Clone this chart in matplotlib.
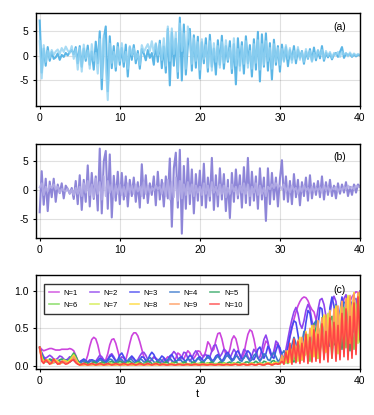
import numpy as np
import matplotlib
matplotlib.use("Agg")
import matplotlib.pyplot as plt

plt.rcParams['font.family'] = ['Liberation Sans', 'DejaVu Sans']

# time grid shared by all panels (step 0.25)
t = np.linspace(0, 40, 161)

# panel (a): two signals
a_dark = [
    7.2, -3.4, 1.5, -2.0, 1.8, -1.0, 0.8, -0.6, -0.3, 0.5, -0.8, 0.2, -0.2, 0.6, 0.1, 0.8, 1.2, 0.3, 1.8, -1.5,
    2.0, -2.2, 1.5, -1.0, 2.1, -1.8, 0.9, -2.8, 2.9, -1.5, 5.0, -6.8, 3.5, 6.0, -7.2, 4.0, -2.5, 2.0, -3.0, 2.6,
    -1.8, 1.6, -2.2, 2.3, -4.2, 1.8, -0.8, 2.2, -1.5, 1.0, -2.6, 1.4, 0.5, -0.9, 1.2, -0.4, 0.6, -1.8, 2.4, -1.2,
    3.1, -2.5, 1.9, -3.4, 5.5, -6.0, 4.8, -2.0, 3.5, -4.5, 7.8, -5.0, 6.4, -3.8, 2.2, 5.5, -3.0, 4.2, -2.4, 3.9,
    -4.6, 2.8, -1.5, 3.6, -3.2, 4.3, -2.2, 1.5, -3.8, 3.2, -1.8, 4.1, -2.6, 2.0, -1.2, 3.0, -3.5, 2.4, -5.8, 3.6,
    -2.0, 2.8, -3.6, 4.0, -1.5, 2.2, -4.2, 3.4, -2.8, 4.9, -5.2, 4.4, -2.2, 4.6, -3.0, 2.6, -4.8, 3.3, -1.8, 2.0,
    -3.2, 2.3, -1.0, 1.8, -2.1, 1.2, -0.8, 2.0, -1.5, 1.3, -0.4, 1.0, -1.6, 0.9, -0.6, 1.4, -1.0, 1.7, -0.9, 1.1,
    -0.5, 2.0, -1.0, 0.6, -0.3, 0.5, -0.7, 0.3, 0.6, -0.2, 0.8, 1.8, -0.4, 0.5, 0.1, 0.4, -0.2, 0.3, -0.1, 0.2,
    0.1,
]
a_light = [
    3.0, -4.6, 2.2, -1.2, 1.0, -0.4, 1.2, 0.2, 0.9, 1.3, 0.4, 1.6, 0.8, 1.9, 1.1, 0.6, 2.0, -0.6, 1.4, -2.8,
    1.6, -3.2, 2.3, -0.5, 1.1, -2.6, 2.4, -1.0, 0.6, -3.6, 3.4, -4.5, 4.2, -2.0, -9.0, 2.5, -1.4, 0.8, -2.2, 1.8,
    -1.0, 2.6, -1.2, 0.8, -2.6, 2.0, 0.2, 1.5, -0.6, 0.4, -1.8, 2.2, 0.8, 1.6, 2.4, 1.0, 3.0, 0.6, 2.6, 0.2,
    2.4, -0.8, 3.6, -2.0, 6.0, -1.0, 5.6, 0.4, 4.8, -3.2, 6.6, 1.0, 4.6, -2.6, 6.0, 3.0, -1.6, 3.6, -1.0, 2.8,
    -2.8, 3.4, -0.6, 2.2, -2.4, 3.0, -3.0, 2.6, -1.2, 2.0, -2.4, 2.8, -1.4, 3.2, -0.8, 1.6, -2.6, 3.6, -2.0, 1.4,
    -3.0, 2.0, -1.6, 3.0, -2.4, 1.0, -2.6, 2.4, -1.4, 3.2, -2.8, 2.4, -1.8, 3.0, -1.0, 1.6, -2.6, 2.4, -1.2, 1.6,
    -1.8, 1.4, -1.2, 2.2, -0.6, 1.6, -1.4, 1.0, -0.6, 1.8, -0.8, 0.8, -1.2, 1.4, -0.4, 1.0, -1.2, 0.6, -0.4, 1.2,
    0.2, 1.2, -0.6, 1.0, 0.0, 0.8, -0.4, 0.6, 0.2, 0.8, -0.2, 0.9, 0.3, 0.6, -0.1, 0.7, 0.0, 0.5, 0.1, 0.4,
    0.2,
]

# panel (b): two signals
b_main = [
    -3.8, 3.3, -2.5, 2.0, -3.6, 1.5, -1.2, 2.0, -2.0, 1.0, -0.5, 1.2, -1.4, 0.8, 0.2, -0.6, 0.4, -1.5, 1.6, -2.4,
    2.6, -3.4, 1.8, -2.0, 4.3, -2.8, 3.0, -1.5, 2.4, -3.5, 7.2, -4.0, 5.0, 6.8, -3.2, 6.2, -4.7, 2.5, -1.8, 3.2,
    -2.4, 3.0, -1.6, 2.4, -2.8, 1.8, -1.0, 2.2, -2.0, 1.4, -3.0, 4.5, -1.4, 2.6, -2.2, 1.2, -0.8, 2.4, -2.6, 3.2,
    -1.6, 1.8, -2.8, 2.4, -1.4, 5.5, -6.3, 3.8, 6.5, -3.0, 7.0, -7.5, 4.2, -3.2, 5.5, -2.4, 3.6, -4.0, 2.8, -1.8,
    3.4, -2.6, 4.6, -3.0, 2.2, -1.8, 5.6, -3.4, 2.6, -2.8, 3.8, -1.6, 2.8, -3.6, 1.8, -4.8, 3.0, -2.0, 3.6, -1.4,
    2.6, -3.0, 4.0, -2.2, 5.6, -2.6, 3.2, -1.8, 2.4, -3.2, 3.8, -1.6, 2.2, -5.3, 3.8, -2.4, 3.0, -1.6, 2.2, -2.8,
    2.0, 5.2, -1.6, 2.4, -2.0, 1.6, -2.4, 2.8, -1.2, 1.8, -2.6, 1.4, -1.0, 2.2, -1.8, 2.6, -1.4, 1.2, -0.8, 1.6,
    -1.2, 2.4, -1.6, 1.4, -0.8, 1.8, -1.0, 0.8, -1.4, 1.2, -0.6, 1.0, -0.4, 1.4, -1.0, 0.6, -0.8, 1.0, -0.4, 1.0,
    0.6,
]
b_light = [
    0.5, 1.2, -0.8, 0.6, -0.2, 0.8, 0.4, 1.0, 0.2, 0.6, -0.4, 0.2, 0.0, -0.2, 0.3, -0.5, 0.1, -0.8, 0.4, -0.6,
    0.6, -1.0, 1.2, -0.4, 1.6, -0.8, 1.0, -1.2, 2.0, -0.6, 1.4, -1.6, 2.4, -1.0, 1.6, -0.4, 1.0, -1.2, 0.8, -0.6,
    1.0, -0.8, 0.6, -1.0, 1.2, -0.4, 0.8, -0.6, 1.0, -0.2, 0.6, -1.0, 1.4, -0.6, 0.8, -0.4, 0.4, 0.0, 0.8, 0.2,
    0.6, -0.6, 1.2, -1.0, 1.8, -1.6, 1.4, -1.2, 2.2, -1.8, 1.6, -1.4, 1.0, -0.8, 1.4, -0.6, 1.0, -1.0, 0.8, -0.4,
    0.6, -0.8, 1.2, -0.6, 0.8, -1.0, 1.4, -0.4, 0.6, -0.8, 1.0, -0.6, 0.8, -1.2, 0.4, -0.6, 1.0, -0.2, 0.6, -0.8,
    0.8, -0.4, 1.2, -0.6, 1.0, -1.0, 0.6, -0.4, 1.2, -0.8, 0.8, -0.6, 0.4, -1.0, 0.6, 0.2, 1.0, 0.4, 1.2, 0.6,
    0.8, 0.2, 1.0, -0.2, 0.6, -0.4, 0.8, 0.0, 0.4, -0.6, 0.6, -0.2, 0.8, 0.0, 0.4, -0.4, 0.6, -0.2, 0.4, 0.0,
    0.5, -0.4, 0.8, 0.0, 0.6, -0.2, 0.4, 0.2, 0.6, -0.2, 0.4, 0.0, 0.6, 0.2, 0.8, 0.4, 0.6, 0.2, 0.8, 0.6,
    0.7,
]

# panel (c): N = 1..10
c_n1 = [
    0.25, 0.22, 0.20, 0.21, 0.22, 0.23, 0.23, 0.22, 0.21, 0.21, 0.21, 0.22, 0.22, 0.22, 0.22, 0.23, 0.22, 0.20, 0.14, 0.07,
    0.04, 0.03, 0.03, 0.06, 0.14, 0.26, 0.35, 0.38, 0.36, 0.28, 0.16, 0.07, 0.05, 0.08, 0.16, 0.28, 0.35, 0.36, 0.30, 0.20,
    0.10, 0.05, 0.04, 0.08, 0.18, 0.30, 0.40, 0.44, 0.44, 0.40, 0.32, 0.22, 0.12, 0.06, 0.05, 0.06, 0.09, 0.11, 0.10, 0.08,
    0.06, 0.05, 0.06, 0.09, 0.12, 0.10, 0.06, 0.05, 0.10, 0.17, 0.15, 0.10, 0.09, 0.15, 0.20, 0.17, 0.11, 0.10, 0.14, 0.20,
    0.19, 0.14, 0.12, 0.20, 0.32, 0.28, 0.19, 0.22, 0.34, 0.43, 0.44, 0.36, 0.24, 0.15, 0.14, 0.22, 0.35, 0.40, 0.36, 0.25,
    0.13, 0.09, 0.16, 0.30, 0.42, 0.48, 0.46, 0.36, 0.22, 0.11, 0.07, 0.12, 0.24, 0.33, 0.30, 0.18, 0.12, 0.18, 0.28, 0.30,
    0.22, 0.12, 0.10, 0.15, 0.25, 0.38, 0.50, 0.62, 0.72, 0.80, 0.86, 0.90, 0.92, 0.91, 0.87, 0.80, 0.75, 0.72, 0.62, 0.52,
    0.42, 0.35, 0.30, 0.28, 0.30, 0.36, 0.44, 0.52, 0.60, 0.64, 0.62, 0.58, 0.60, 0.68, 0.78, 0.86, 0.92, 0.96, 0.99, 0.98,
    0.95,
]
c_n2 = [
    0.24, 0.18, 0.12, 0.10, 0.12, 0.14, 0.12, 0.09, 0.08, 0.10, 0.13, 0.12, 0.09, 0.07, 0.09, 0.12, 0.10, 0.07, 0.05, 0.04,
    0.05, 0.07, 0.06, 0.04, 0.05, 0.08, 0.07, 0.05, 0.06, 0.10, 0.14, 0.12, 0.08, 0.06, 0.09, 0.14, 0.16, 0.12, 0.07, 0.05,
    0.08, 0.12, 0.10, 0.06, 0.05, 0.08, 0.11, 0.09, 0.06, 0.08, 0.13, 0.17, 0.18, 0.14, 0.08, 0.05, 0.08, 0.12, 0.10, 0.06,
    0.04, 0.06, 0.10, 0.08, 0.05, 0.09, 0.15, 0.19, 0.16, 0.10, 0.07, 0.12, 0.18, 0.17, 0.10, 0.06, 0.10, 0.16, 0.20, 0.16,
    0.10, 0.08, 0.14, 0.15, 0.10, 0.12, 0.20, 0.27, 0.28, 0.20, 0.12, 0.16, 0.22, 0.20, 0.13, 0.10, 0.16, 0.22, 0.18, 0.11,
    0.08, 0.14, 0.22, 0.20, 0.12, 0.08, 0.14, 0.22, 0.18, 0.10, 0.12, 0.22, 0.35, 0.41, 0.32, 0.18, 0.12, 0.20, 0.33, 0.30,
    0.18, 0.10, 0.12, 0.22, 0.36, 0.50, 0.62, 0.72, 0.78, 0.70, 0.56, 0.50, 0.60, 0.74, 0.82, 0.76, 0.60, 0.50, 0.58, 0.75,
    0.88, 0.90, 0.82, 0.66, 0.58, 0.70, 0.86, 0.93, 0.86, 0.62, 0.50, 0.72, 0.90, 0.95, 0.78, 0.45, 0.62, 0.88, 0.90, 0.70,
    1.00,
]
c_n3 = [
    0.24, 0.16, 0.10, 0.07, 0.06, 0.08, 0.07, 0.05, 0.05, 0.07, 0.06, 0.05, 0.06, 0.08, 0.07, 0.05, 0.09, 0.12, 0.10, 0.06,
    0.05, 0.07, 0.09, 0.07, 0.05, 0.06, 0.08, 0.07, 0.05, 0.07, 0.10, 0.09, 0.06, 0.05, 0.08, 0.12, 0.14, 0.10, 0.06, 0.08,
    0.14, 0.17, 0.12, 0.07, 0.06, 0.10, 0.13, 0.10, 0.06, 0.05, 0.08, 0.12, 0.11, 0.07, 0.08, 0.14, 0.18, 0.15, 0.09, 0.06,
    0.09, 0.13, 0.11, 0.06, 0.08, 0.13, 0.15, 0.10, 0.06, 0.07, 0.11, 0.12, 0.08, 0.06, 0.10, 0.14, 0.12, 0.07, 0.06, 0.10,
    0.12, 0.09, 0.06, 0.09, 0.14, 0.12, 0.07, 0.08, 0.13, 0.15, 0.10, 0.06, 0.10, 0.16, 0.18, 0.13, 0.08, 0.10, 0.17, 0.20,
    0.15, 0.09, 0.10, 0.16, 0.20, 0.17, 0.10, 0.08, 0.14, 0.22, 0.25, 0.18, 0.10, 0.16, 0.26, 0.22, 0.12, 0.10, 0.20, 0.28,
    0.24, 0.14, 0.08, 0.12, 0.25, 0.40, 0.52, 0.60, 0.58, 0.42, 0.24, 0.20, 0.36, 0.58, 0.74, 0.70, 0.52, 0.30, 0.28, 0.52,
    0.78, 0.76, 0.50, 0.30, 0.46, 0.78, 0.92, 0.80, 0.48, 0.40, 0.72, 0.92, 0.70, 0.38, 0.55, 0.88, 0.82, 0.45, 0.60, 0.90,
    0.80,
]
c_n4 = [
    0.23, 0.15, 0.09, 0.06, 0.05, 0.06, 0.05, 0.04, 0.05, 0.06, 0.05, 0.04, 0.05, 0.07, 0.06, 0.05, 0.07, 0.10, 0.08, 0.05,
    0.04, 0.05, 0.07, 0.06, 0.04, 0.05, 0.07, 0.06, 0.04, 0.05, 0.08, 0.07, 0.05, 0.04, 0.06, 0.09, 0.08, 0.05, 0.04, 0.07,
    0.10, 0.08, 0.05, 0.04, 0.07, 0.10, 0.08, 0.05, 0.04, 0.06, 0.09, 0.08, 0.05, 0.05, 0.08, 0.11, 0.09, 0.05, 0.04, 0.07,
    0.09, 0.07, 0.04, 0.05, 0.08, 0.10, 0.07, 0.04, 0.05, 0.08, 0.09, 0.06, 0.04, 0.06, 0.09, 0.08, 0.05, 0.04, 0.07, 0.10,
    0.08, 0.05, 0.05, 0.09, 0.12, 0.09, 0.05, 0.06, 0.10, 0.13, 0.09, 0.05, 0.07, 0.12, 0.14, 0.10, 0.06, 0.08, 0.13, 0.12,
    0.07, 0.06, 0.11, 0.14, 0.10, 0.06, 0.08, 0.14, 0.16, 0.10, 0.06, 0.10, 0.16, 0.14, 0.08, 0.07, 0.14, 0.18, 0.12, 0.06,
    0.08, 0.16, 0.20, 0.12, 0.06, 0.14, 0.28, 0.38, 0.30, 0.14, 0.12, 0.30, 0.46, 0.40, 0.20, 0.16, 0.38, 0.56, 0.60, 0.42,
    0.22, 0.30, 0.55, 0.66, 0.50, 0.26, 0.40, 0.70, 0.82, 0.60, 0.30, 0.52, 0.84, 0.86, 0.55, 0.36, 0.72, 0.90, 0.72, 0.40,
    0.62,
]
c_n5 = [
    0.24, 0.14, 0.08, 0.06, 0.07, 0.09, 0.08, 0.06, 0.05, 0.06, 0.08, 0.09, 0.07, 0.05, 0.06, 0.09, 0.13, 0.17, 0.13, 0.07,
    0.03, 0.02, 0.03, 0.04, 0.03, 0.02, 0.03, 0.05, 0.04, 0.02, 0.03, 0.05, 0.04, 0.02, 0.03, 0.05, 0.06, 0.04, 0.03, 0.04,
    0.06, 0.05, 0.03, 0.03, 0.05, 0.06, 0.04, 0.02, 0.03, 0.05, 0.05, 0.03, 0.02, 0.04, 0.06, 0.05, 0.03, 0.02, 0.04, 0.05,
    0.04, 0.02, 0.03, 0.05, 0.04, 0.02, 0.02, 0.04, 0.05, 0.03, 0.02, 0.03, 0.05, 0.04, 0.02, 0.02, 0.04, 0.05, 0.03, 0.02,
    0.03, 0.05, 0.04, 0.02, 0.02, 0.04, 0.05, 0.03, 0.02, 0.03, 0.05, 0.04, 0.02, 0.02, 0.04, 0.05, 0.03, 0.02, 0.03, 0.05,
    0.04, 0.02, 0.03, 0.05, 0.05, 0.03, 0.02, 0.04, 0.06, 0.04, 0.02, 0.03, 0.06, 0.05, 0.03, 0.03, 0.06, 0.07, 0.04, 0.03,
    0.05, 0.08, 0.06, 0.04, 0.10, 0.18, 0.12, 0.05, 0.16, 0.30, 0.22, 0.08, 0.22, 0.44, 0.34, 0.10, 0.30, 0.56, 0.46, 0.16,
    0.36, 0.64, 0.66, 0.30, 0.24, 0.60, 0.66, 0.28, 0.30, 0.70, 0.60, 0.22, 0.50, 0.84, 0.54, 0.20, 0.66, 0.90, 0.44, 0.34,
    0.74,
]
c_n6 = [
    0.25, 0.12, 0.06, 0.05, 0.07, 0.06, 0.04, 0.05, 0.07, 0.06, 0.04, 0.05, 0.08, 0.07, 0.05, 0.08, 0.12, 0.15, 0.10, 0.05,
    0.02, 0.02, 0.03, 0.02, 0.01, 0.02, 0.03, 0.02, 0.01, 0.02, 0.03, 0.03, 0.02, 0.01, 0.02, 0.04, 0.03, 0.01, 0.02, 0.03,
    0.03, 0.02, 0.01, 0.02, 0.04, 0.03, 0.02, 0.01, 0.03, 0.04, 0.02, 0.01, 0.02, 0.03, 0.03, 0.01, 0.01, 0.03, 0.04, 0.02,
    0.01, 0.02, 0.03, 0.02, 0.01, 0.02, 0.04, 0.03, 0.01, 0.01, 0.03, 0.03, 0.02, 0.01, 0.02, 0.03, 0.02, 0.01, 0.02, 0.03,
    0.03, 0.01, 0.01, 0.03, 0.04, 0.02, 0.01, 0.02, 0.03, 0.02, 0.01, 0.02, 0.04, 0.03, 0.01, 0.01, 0.03, 0.04, 0.02, 0.01,
    0.02, 0.03, 0.03, 0.01, 0.01, 0.03, 0.04, 0.02, 0.01, 0.02, 0.04, 0.03, 0.01, 0.02, 0.04, 0.04, 0.02, 0.02, 0.05, 0.04,
    0.02, 0.06, 0.12, 0.06, 0.03, 0.14, 0.22, 0.08, 0.08, 0.28, 0.30, 0.08, 0.14, 0.40, 0.30, 0.06, 0.30, 0.52, 0.24, 0.10,
    0.46, 0.56, 0.14, 0.26, 0.66, 0.48, 0.10, 0.42, 0.76, 0.34, 0.18, 0.70, 0.78, 0.24, 0.44, 0.88, 0.50, 0.22, 0.78, 0.86,
    0.32,
]
c_n7 = [
    0.24, 0.11, 0.05, 0.06, 0.08, 0.05, 0.03, 0.05, 0.07, 0.05, 0.03, 0.05, 0.07, 0.06, 0.05, 0.07, 0.10, 0.12, 0.08, 0.04,
    0.02, 0.01, 0.02, 0.02, 0.01, 0.01, 0.02, 0.02, 0.01, 0.01, 0.02, 0.02, 0.01, 0.01, 0.02, 0.03, 0.02, 0.01, 0.01, 0.02,
    0.02, 0.01, 0.01, 0.02, 0.03, 0.02, 0.01, 0.01, 0.02, 0.03, 0.02, 0.01, 0.01, 0.02, 0.02, 0.01, 0.01, 0.02, 0.03, 0.02,
    0.01, 0.01, 0.02, 0.02, 0.01, 0.01, 0.03, 0.02, 0.01, 0.01, 0.02, 0.02, 0.01, 0.01, 0.02, 0.02, 0.01, 0.01, 0.02, 0.02,
    0.02, 0.01, 0.01, 0.02, 0.03, 0.02, 0.01, 0.01, 0.02, 0.02, 0.01, 0.01, 0.03, 0.02, 0.01, 0.01, 0.02, 0.03, 0.02, 0.01,
    0.01, 0.02, 0.02, 0.01, 0.01, 0.02, 0.03, 0.02, 0.01, 0.02, 0.03, 0.02, 0.01, 0.02, 0.03, 0.03, 0.01, 0.02, 0.04, 0.03,
    0.02, 0.08, 0.05, 0.04, 0.16, 0.12, 0.04, 0.22, 0.26, 0.06, 0.20, 0.36, 0.12, 0.16, 0.42, 0.28, 0.08, 0.46, 0.40, 0.10,
    0.38, 0.58, 0.16, 0.32, 0.70, 0.34, 0.22, 0.74, 0.54, 0.16, 0.66, 0.84, 0.26, 0.58, 0.94, 0.42, 0.34, 0.96, 0.66, 0.30,
    0.90,
]
c_n8 = [
    0.23, 0.10, 0.05, 0.07, 0.08, 0.05, 0.03, 0.05, 0.08, 0.06, 0.03, 0.04, 0.07, 0.06, 0.04, 0.06, 0.09, 0.14, 0.09, 0.04,
    0.01, 0.01, 0.02, 0.01, 0.01, 0.02, 0.02, 0.01, 0.01, 0.02, 0.02, 0.01, 0.01, 0.02, 0.02, 0.01, 0.01, 0.02, 0.02, 0.01,
    0.01, 0.02, 0.02, 0.01, 0.01, 0.02, 0.02, 0.01, 0.01, 0.02, 0.02, 0.01, 0.01, 0.02, 0.02, 0.01, 0.01, 0.02, 0.02, 0.01,
    0.01, 0.02, 0.02, 0.01, 0.01, 0.02, 0.02, 0.01, 0.01, 0.02, 0.02, 0.01, 0.01, 0.02, 0.02, 0.01, 0.01, 0.02, 0.02, 0.01,
    0.01, 0.02, 0.02, 0.01, 0.01, 0.02, 0.02, 0.01, 0.01, 0.02, 0.02, 0.01, 0.01, 0.02, 0.02, 0.01, 0.01, 0.02, 0.03, 0.02,
    0.01, 0.02, 0.03, 0.02, 0.01, 0.02, 0.03, 0.02, 0.01, 0.02, 0.03, 0.02, 0.01, 0.03, 0.04, 0.02, 0.02, 0.04, 0.04, 0.02,
    0.03, 0.08, 0.03, 0.12, 0.20, 0.04, 0.18, 0.30, 0.06, 0.24, 0.38, 0.08, 0.28, 0.46, 0.10, 0.32, 0.54, 0.12, 0.38, 0.60,
    0.14, 0.44, 0.68, 0.18, 0.50, 0.74, 0.20, 0.58, 0.80, 0.22, 0.64, 0.86, 0.26, 0.70, 0.92, 0.30, 0.78, 0.98, 0.34, 0.84,
    0.98,
]
c_n9 = [
    0.22, 0.09, 0.04, 0.06, 0.07, 0.04, 0.03, 0.05, 0.06, 0.04, 0.02, 0.04, 0.06, 0.05, 0.03, 0.05, 0.08, 0.12, 0.08, 0.03,
    0.01, 0.01, 0.01, 0.02, 0.01, 0.01, 0.01, 0.02, 0.01, 0.01, 0.01, 0.02, 0.01, 0.01, 0.01, 0.02, 0.01, 0.01, 0.01, 0.02,
    0.01, 0.01, 0.01, 0.02, 0.01, 0.01, 0.01, 0.02, 0.01, 0.01, 0.01, 0.02, 0.01, 0.01, 0.01, 0.02, 0.01, 0.01, 0.01, 0.02,
    0.01, 0.01, 0.01, 0.02, 0.01, 0.01, 0.01, 0.02, 0.01, 0.01, 0.01, 0.02, 0.01, 0.01, 0.01, 0.02, 0.01, 0.01, 0.01, 0.02,
    0.01, 0.01, 0.01, 0.02, 0.01, 0.01, 0.01, 0.02, 0.01, 0.01, 0.01, 0.02, 0.01, 0.01, 0.01, 0.02, 0.01, 0.01, 0.02, 0.02,
    0.01, 0.01, 0.02, 0.02, 0.01, 0.01, 0.02, 0.02, 0.01, 0.02, 0.02, 0.02, 0.01, 0.02, 0.03, 0.02, 0.01, 0.02, 0.03, 0.02,
    0.04, 0.14, 0.03, 0.20, 0.05, 0.26, 0.06, 0.30, 0.08, 0.34, 0.06, 0.38, 0.10, 0.44, 0.08, 0.50, 0.12, 0.54, 0.10, 0.60,
    0.14, 0.64, 0.12, 0.68, 0.18, 0.72, 0.16, 0.76, 0.22, 0.80, 0.20, 0.86, 0.26, 0.90, 0.24, 0.94, 0.30, 0.96, 0.28, 0.98,
    0.40,
]
c_n10 = [
    0.25, 0.06, 0.03, 0.08, 0.05, 0.02, 0.04, 0.09, 0.05, 0.02, 0.03, 0.06, 0.04, 0.02, 0.03, 0.05, 0.07, 0.08, 0.04, 0.02,
    0.01, 0.02, 0.03, 0.02, 0.01, 0.02, 0.03, 0.02, 0.01, 0.02, 0.03, 0.02, 0.01, 0.02, 0.03, 0.02, 0.01, 0.02, 0.03, 0.02,
    0.01, 0.02, 0.03, 0.02, 0.01, 0.02, 0.03, 0.02, 0.01, 0.02, 0.03, 0.02, 0.01, 0.02, 0.03, 0.02, 0.01, 0.02, 0.03, 0.02,
    0.01, 0.02, 0.02, 0.01, 0.01, 0.02, 0.02, 0.01, 0.01, 0.02, 0.02, 0.01, 0.01, 0.02, 0.02, 0.01, 0.01, 0.02, 0.02, 0.01,
    0.01, 0.02, 0.02, 0.01, 0.01, 0.02, 0.02, 0.01, 0.01, 0.02, 0.02, 0.01, 0.01, 0.02, 0.02, 0.01, 0.01, 0.02, 0.02, 0.01,
    0.01, 0.02, 0.02, 0.01, 0.01, 0.02, 0.02, 0.01, 0.01, 0.02, 0.02, 0.01, 0.01, 0.02, 0.03, 0.02, 0.01, 0.02, 0.03, 0.02,
    0.03, 0.06, 0.02, 0.18, 0.04, 0.30, 0.02, 0.36, 0.04, 0.32, 0.03, 0.30, 0.05, 0.42, 0.03, 0.38, 0.05, 0.48, 0.06, 0.42,
    0.04, 0.56, 0.08, 0.46, 0.05, 0.64, 0.10, 0.58, 0.06, 0.54, 0.08, 0.70, 0.12, 0.76, 0.08, 0.66, 0.10, 0.84, 0.15, 0.92,
    0.35,
]

c_series = [c_n1, c_n2, c_n3, c_n4, c_n5, c_n6, c_n7, c_n8, c_n9, c_n10]
c_labels = ["N=1", "N=2", "N=3", "N=4", "N=5", "N=6", "N=7", "N=8", "N=9", "N=10"]
c_colors = ["#cc44dd", "#9044ee", "#4848f0", "#3a78cc", "#35a866",
            "#7ad855", "#d2ec4a", "#ffd935", "#ff9a5c", "#ff4444"]

for name, s in [("a_dark", a_dark), ("a_light", a_light), ("b_main", b_main), ("b_light", b_light)]:
    assert len(s) == len(t), (name, len(s))
for lab, s in zip(c_labels, c_series):
    assert len(s) == len(t), (lab, len(s))

W, H = 374, 415
fig = plt.figure(figsize=(W / 100, H / 100), dpi=100)


def make_ax(top_px, bottom_px):
    left_px, right_px = 35.7, 360.0
    return fig.add_axes([left_px / W, 1 - bottom_px / H,
                         (right_px - left_px) / W, (bottom_px - top_px) / H])


def style(ax, yticks, ylim):
    ax.set_xlim(-0.5, 40)
    ax.set_ylim(*ylim)
    ax.set_xticks([0, 10, 20, 30, 40])
    ax.set_yticks(yticks)
    ax.grid(True, color="black", alpha=0.12, linewidth=0.8)
    ax.set_axisbelow(True)
    ax.tick_params(direction="out", length=2.5, width=0.8, pad=2.5, labelsize=7.5)
    for sp in ax.spines.values():
        sp.set_linewidth(1.0)


ax_a = make_ax(12.7, 106.0)
ax_a.plot(t, a_dark, color="#5cb6e6", lw=1.5)
ax_a.plot(t, a_light, color="#92d2f2", lw=1.5, alpha=0.8)
style(ax_a, [-5, 0, 5], (-10.2, 8.8))
ax_a.set_yticklabels(["-5", "0", "5"])
ax_a.text(0.938, 0.85, "(a)", transform=ax_a.transAxes, ha="center", va="center", fontsize=7.5)

ax_b = make_ax(144.0, 237.7)
ax_b.plot(t, b_main, color="#8e86d8", lw=1.5)
ax_b.plot(t, b_light, color="#b4aee6", lw=1.5, alpha=0.85)
style(ax_b, [-5, 0, 5], (-8.2, 8.0))
ax_b.set_yticklabels(["-5", "0", "5"])
ax_b.text(0.938, 0.858, "(b)", transform=ax_b.transAxes, ha="center", va="center", fontsize=7.5)

ax_c = make_ax(275.3, 369.3)
handles = []
for s, lab, col in zip(c_series, c_labels, c_colors):
    ln, = ax_c.plot(t, s, color=col, lw=1.2, label=lab)
    handles.append(ln)
style(ax_c, [0.0, 0.5, 1.0], (-0.048, 1.21))
ax_c.set_yticklabels(["0.0", "0.5", "1.0"])
ax_c.text(0.938, 0.844, "(c)", transform=ax_c.transAxes, ha="center", va="center", fontsize=7.5)
ax_c.set_xlabel("t", fontsize=8, labelpad=2)

# legend is filled column by column, so interleave to get N=1..5 on the first row
order = [0, 5, 1, 6, 2, 7, 3, 8, 4, 9]
leg = ax_c.legend([handles[i] for i in order], [c_labels[i] for i in order],
                  loc="upper left", bbox_to_anchor=(0.0256, 0.904), ncol=5,
                  fontsize=5.5, handlelength=1.2, handletextpad=0.6,
                  columnspacing=1.6, labelspacing=0.55, borderpad=0.7,
                  borderaxespad=0, fancybox=False, framealpha=1)
leg.get_frame().set_edgecolor("#333333")
leg.get_frame().set_linewidth(1.0)
for line in leg.get_lines():
    line.set_alpha(0.8)

fig.savefig("out.png", dpi=100)
